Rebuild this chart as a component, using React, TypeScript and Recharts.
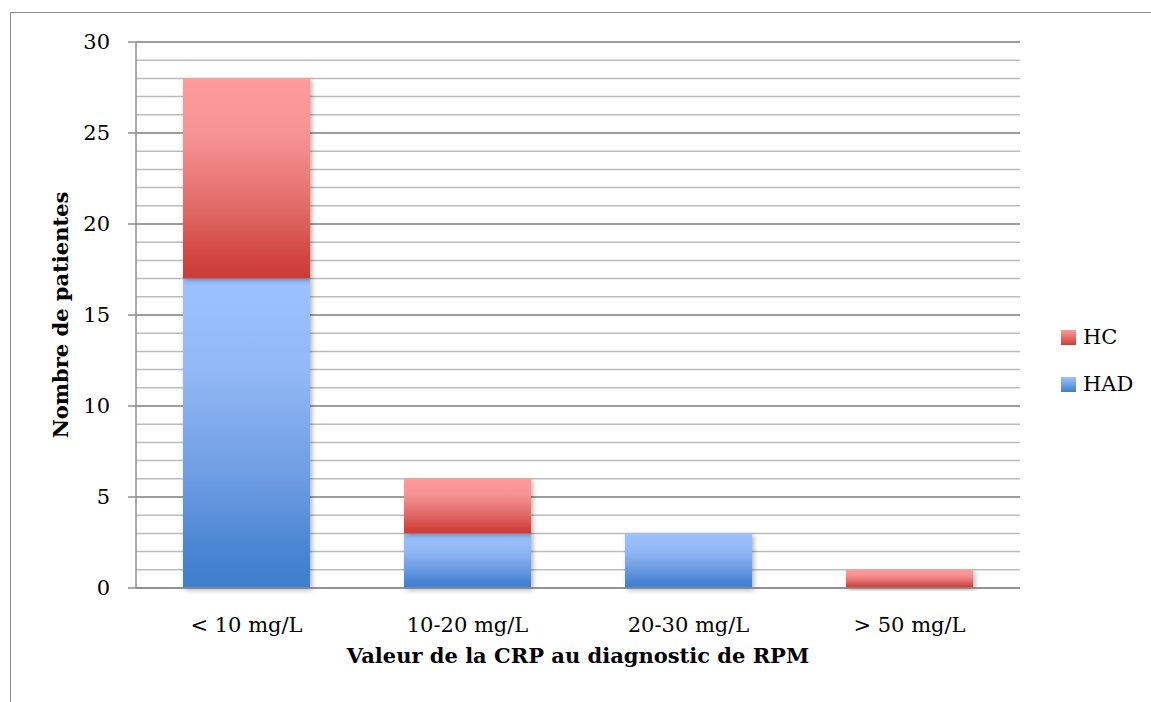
import React from "react";
import { BarChart, Bar, XAxis, YAxis, CartesianGrid, Legend } from "recharts";

const categories = ["< 10 mg/L", "10-20 mg/L", "20-30 mg/L", "> 50 mg/L"];
const hadValues = [17, 3, 3, 0];
const hcValues = [11, 3, 0, 1];
const majorTicks = [0, 5, 10, 15, 20, 25, 30];
const minorTicks = Array.from({ length: 31 }, (_, i) => i);

const data = categories.map((c, i) => ({ name: c, HAD: hadValues[i], HC: hcValues[i] }));

const FONT = "'DejaVu Serif', serif";

const legendItems = [
  { name: "HC", grad: "linear-gradient(#ff9c9c, #cd3c38)" },
  { name: "HAD", grad: "linear-gradient(#9dc3ff, #3e7fcc)" },
];

const LegendContent = () => (
  <div style={{ fontFamily: FONT, fontSize: 21, color: "#000" }}>
    {legendItems.map((it, i) => (
      <div key={it.name} style={{ display: "flex", alignItems: "center", height: 24, marginBottom: i === 0 ? 23 : 0 }}>
        <div style={{ width: 15, height: 15, background: it.grad, marginRight: 7 }} />
        <span>{it.name}</span>
      </div>
    ))}
  </div>
);

const YTitle = (props: any) => {
  const vb = props.viewBox || { x: 0, y: 42, width: 136, height: 546 };
  const cx = vb.x + 60;
  const cy = vb.y + vb.height / 2;
  return (
    <text x={cx} y={cy} transform={`rotate(-90 ${cx} ${cy})`} textAnchor="middle" dominantBaseline="central"
      style={{ fontFamily: FONT, fontSize: 21, fontWeight: "bold", fill: "#000" }}>
      Nombre de patientes
    </text>
  );
};

const XTitle = (props: any) => {
  const vb = props.viewBox || { x: 136, y: 588, width: 884, height: 114 };
  return (
    <text x={vb.x + vb.width / 2} y={vb.y + 75} textAnchor="middle"
      style={{ fontFamily: FONT, fontSize: 21, fontWeight: "bold", fill: "#000" }}>
      Valeur de la CRP au diagnostic de RPM
    </text>
  );
};

export default function App() {
  return (
    <div style={{ position: "absolute", left: 0, top: 0, width: 1151, height: 702, background: "#fff" }}>
      <div style={{ position: "absolute", left: 10, top: 12, width: 1141, height: 690, borderLeft: "1.5px solid #8c8c8c", borderTop: "1.5px solid #8c8c8c" }} />
      <BarChart
        width={1151}
        height={702}
        data={data}
        margin={{ top: 42, right: 131, left: 0, bottom: 0 }}
        style={{ position: "absolute", left: 0, top: 0, fontFamily: FONT }}
      >
        <defs>
          <linearGradient id="gradHC" x1="0" y1="0" x2="0" y2="1">
            <stop offset="0" stopColor="#fe9b9b" />
            <stop offset="0.3" stopColor="#f69292" />
            <stop offset="0.65" stopColor="#e06a66" />
            <stop offset="0.9" stopColor="#d2443f" />
            <stop offset="1" stopColor="#cc3c38" />
          </linearGradient>
          <linearGradient id="gradHAD" x1="0" y1="0" x2="0" y2="1">
            <stop offset="0" stopColor="#9cc3ff" />
            <stop offset="0.3" stopColor="#92b9f6" />
            <stop offset="0.65" stopColor="#6c9ce2" />
            <stop offset="0.9" stopColor="#4683d1" />
            <stop offset="1" stopColor="#3e7fcc" />
          </linearGradient>
          <filter id="barShadow" x="-10%" y="-10%" width="125%" height="125%">
            <feDropShadow dx="2" dy="2" stdDeviation="2.5" floodColor="#000" floodOpacity="0.3" />
          </filter>
        </defs>
        <CartesianGrid
          vertical={false}
          stroke="#bcbcbc"
          strokeWidth={1.5}
          horizontalCoordinatesGenerator={(p: any) =>
            minorTicks.map((v) =>
              p && p.yAxis && typeof p.yAxis.scale === "function"
                ? p.yAxis.scale(v)
                : p.offset.top + p.offset.height * (1 - v / 30)
            )
          }
        />
        <CartesianGrid vertical={false} stroke="#8e8e8e" strokeWidth={1.5} />
        <XAxis
          dataKey="name"
          height={114}
          tickLine={false}
          tickSize={8}
          tickMargin={21}
          axisLine={{ stroke: "#8e8e8e", strokeWidth: 1.5 }}
          tick={{ fill: "#000", fontSize: 21, fontFamily: FONT }}
          label={<XTitle />}
        />
        <YAxis
          width={136}
          domain={[0, 30]}
          ticks={majorTicks}
          interval={0}
          tickSize={8}
          tickMargin={18}
          tickLine={{ stroke: "#8e8e8e", strokeWidth: 1.5 }}
          axisLine={{ stroke: "#8e8e8e", strokeWidth: 1.5 }}
          tick={{ fill: "#000", fontSize: 21, fontFamily: FONT }}
          label={<YTitle />}
        />
        <Legend
          layout="horizontal"
          verticalAlign="middle"
          align="center"
          content={<LegendContent />}
          wrapperStyle={{ position: "absolute", left: 1061, top: 325, width: 90 }}
        />
        <Bar dataKey="HAD" stackId="a" barSize={127} fill="url(#gradHAD)" filter="url(#barShadow)" isAnimationActive={false} />
        <Bar dataKey="HC" stackId="a" barSize={127} fill="url(#gradHC)" filter="url(#barShadow)" isAnimationActive={false} />
      </BarChart>
    </div>
  );
}
